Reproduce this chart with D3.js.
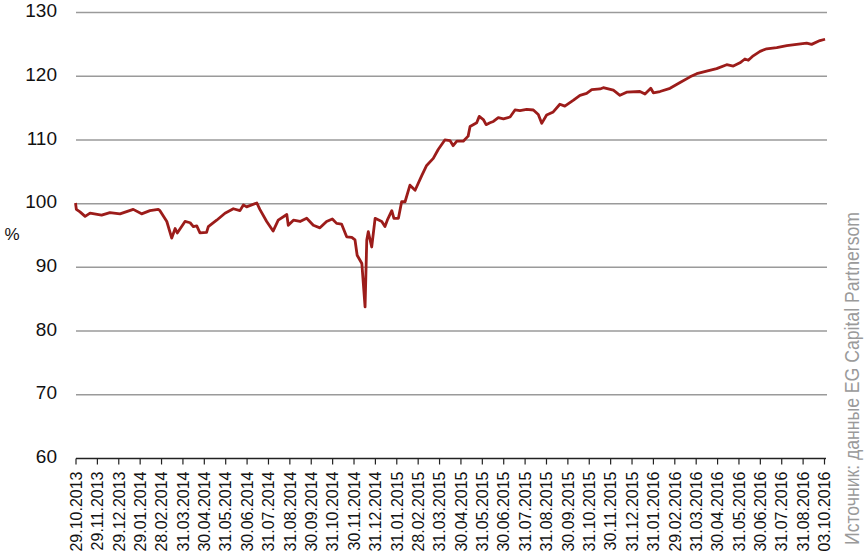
<!DOCTYPE html>
<html><head><meta charset="utf-8">
<script src="https://cdn.jsdelivr.net/npm/d3@7"></script>
<style>
html,body{margin:0;padding:0;background:#fff;}
svg{display:block;}
</style></head>
<body>
<svg id="chart" width="864" height="559"></svg>
<script>
// Tick labels (36 labels; no 30.09.2016 in the original)
const xLabels = ["29.10.2013","29.11.2013","29.12.2013","29.01.2014","28.02.2014","31.03.2014","30.04.2014","31.05.2014","30.06.2014","31.07.2014","31.08.2014","30.09.2014","31.10.2014","30.11.2014","31.12.2014","31.01.2015","28.02.2015","31.03.2015","30.04.2015","31.05.2015","30.06.2015","31.07.2015","31.08.2015","30.09.2015","31.10.2015","30.11.2015","31.12.2015","31.01.2016","29.02.2016","31.03.2016","30.04.2016","31.05.2016","30.06.2016","31.07.2016","31.08.2016","03.10.2016"];
const yTicks = [60,70,80,90,100,110,120,130];
// Series: position in tick intervals since 29.10.2013, value in %
const monthPos = [0,0.04,0.21,0.45,0.68,1.22,1.61,2.08,2.70,3.09,3.48,3.87,3.95,4.27,4.50,4.66,4.76,5.12,5.36,5.51,5.67,5.82,6.13,6.21,6.60,6.99,7.38,7.69,7.85,8.00,8.48,8.62,8.94,9.24,9.48,9.88,9.95,10.19,10.50,10.81,11.12,11.43,11.74,12.01,12.21,12.44,12.68,12.92,13.07,13.17,13.39,13.54,13.62,13.69,13.85,14.01,14.32,14.47,14.58,14.79,14.89,15.10,15.25,15.41,15.64,15.88,16.19,16.42,16.73,16.96,17.27,17.51,17.66,17.83,18.13,18.36,18.45,18.76,18.88,19.07,19.20,19.38,19.54,19.77,20.01,20.32,20.55,20.78,21.10,21.41,21.64,21.80,22.03,22.34,22.65,22.88,23.27,23.59,23.90,24.14,24.53,24.68,25.15,25.46,25.77,26.39,26.63,26.90,27.02,27.33,27.80,28.27,28.74,29.05,29.51,29.98,30.45,30.76,31.07,31.30,31.46,31.69,32.01,32.32,32.79,33.26,33.72,34.19,34.42,34.81,35.05];
const values = [100.1,99.1,98.7,98.0,98.5,98.2,98.6,98.4,99.1,98.4,98.9,99.1,98.9,97.2,94.6,96.1,95.4,97.2,97.0,96.4,96.5,95.4,95.5,96.4,97.4,98.5,99.2,98.9,99.8,99.5,100.1,99.1,97.2,95.7,97.4,98.3,96.6,97.4,97.2,97.7,96.6,96.2,97.2,97.6,96.9,96.8,94.8,94.7,94.3,91.9,90.6,83.8,94.3,95.6,93.2,97.7,97.2,96.4,97.4,98.9,97.7,97.7,100.3,100.3,102.9,102.1,104.4,106.0,107.1,108.5,110.0,109.9,109.1,109.8,109.8,110.6,112.1,112.7,113.7,113.2,112.4,112.7,112.9,113.5,113.3,113.6,114.7,114.6,114.8,114.7,114.0,112.6,113.9,114.4,115.6,115.3,116.2,117.0,117.3,117.9,118.0,118.2,117.8,117.0,117.5,117.6,117.2,118.1,117.4,117.6,118.1,119.0,119.9,120.4,120.8,121.2,121.8,121.6,122.1,122.7,122.5,123.2,123.9,124.3,124.5,124.8,125.0,125.2,125.0,125.6,125.8];
const unitLabel = "%";
const sourceText = "Источник: данные EG Capital Partnersom";

const svg = d3.select("#chart");
const x = d3.scaleLinear().domain([0, xLabels.length - 1]).range([75.5, 824]);
const y = d3.scaleLinear().domain([60, 130]).range([458.5, 12.5]);

// gridlines
svg.append("g").selectAll("line").data(yTicks.filter(d => d > 60)).join("line")
  .attr("x1", 76).attr("x2", 827)
  .attr("y1", d => y(d)).attr("y2", d => y(d))
  .attr("stroke", "#9a9a9a").attr("stroke-width", 1.5);

// y labels
svg.append("g").selectAll("text").data(yTicks).join("text")
  .attr("x", 57).attr("y", d => y(d) - 2)
  .attr("dy", "0.35em")
  .attr("text-anchor", "end")
  .attr("font-family", "'Liberation Sans Narrow','Liberation Sans',Arial,sans-serif")
  .attr("font-size", 19).attr("fill", "#111")
  .text(d => d);

// % label
svg.append("text").attr("x", 12).attr("y", 234).attr("dy", "0.35em")
  .attr("text-anchor", "middle")
  .attr("font-family", "'Liberation Sans Narrow','Liberation Sans',Arial,sans-serif")
  .attr("font-size", 17).attr("fill", "#111").text(unitLabel);

// x axis
const gx = svg.append("g").attr("transform", `translate(0,${y(60)})`)
  .call(d3.axisBottom(x).tickValues(d3.range(xLabels.length)).tickFormat(i => xLabels[i]).tickSize(6).tickSizeOuter(0));
gx.select(".domain").attr("stroke", "#222").attr("stroke-width", 1.5).attr("d", "M76,0H826");
gx.selectAll(".tick line").attr("stroke", "#222").attr("stroke-width", 1.2);
gx.selectAll(".tick text")
  .attr("transform", "rotate(-90)")
  .attr("text-anchor", "end")
  .attr("x", -13).attr("y", 0).attr("dy", "0.36em")
  .attr("font-family", "'Liberation Sans',Arial,sans-serif")
  .attr("font-size", 16).attr("fill", "#111");

// line
const data = monthPos.map((p, i) => [p, values[i]]);
svg.append("path").datum(data)
  .attr("fill", "none").attr("stroke", "#9c1c1a").attr("stroke-width", 2.8)
  .attr("stroke-linejoin", "round")
  .attr("d", d3.line().x(d => x(d[0])).y(d => y(d[1])));

// source
svg.append("text")
  .attr("transform", "translate(859,545) rotate(-90)")
  .attr("font-family", "'Liberation Sans Narrow','Liberation Sans',Arial,sans-serif")
  .attr("font-size", 20.5).attr("fill", "#9a9a9a")
  .attr("textLength", 333).attr("lengthAdjust", "spacingAndGlyphs")
  .text(sourceText);
</script>
</body></html>
